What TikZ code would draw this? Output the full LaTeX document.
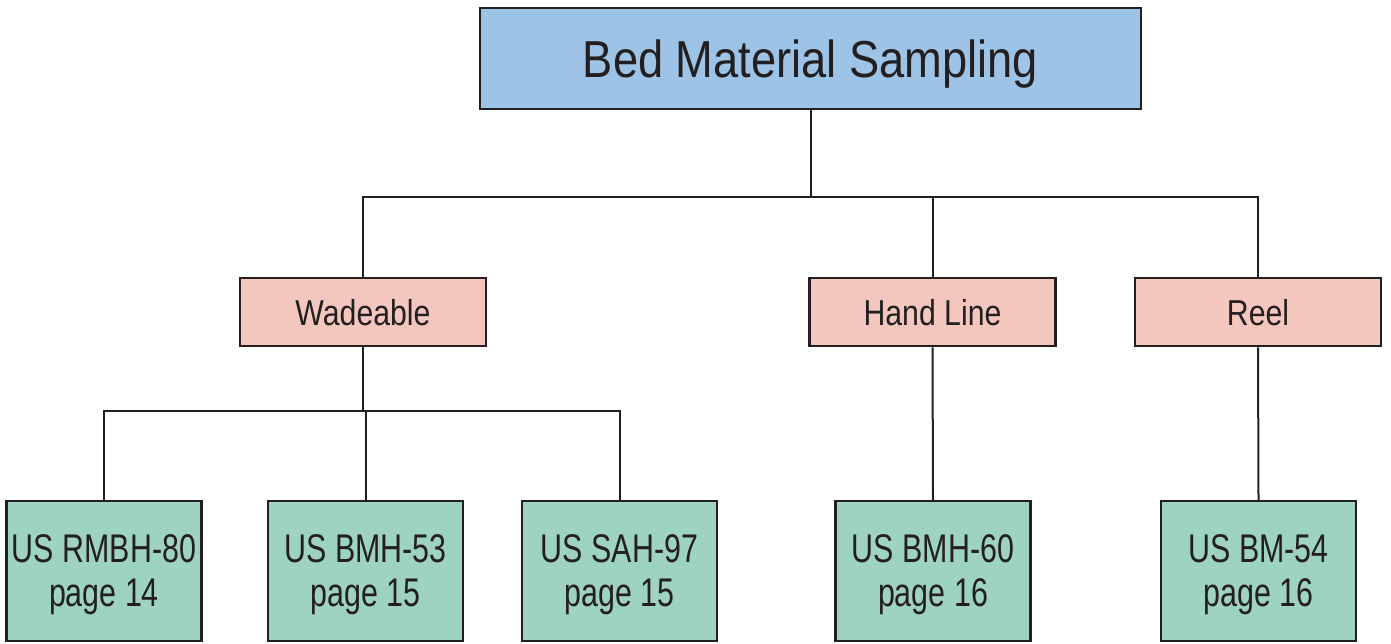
\documentclass[tikz,border=0pt]{standalone}
\usepackage{fontspec}
\setmainfont{Liberation Sans}
\newfontfamily\rootfont[FakeStretch=0.87]{Liberation Sans}
\newfontfamily\kindfont[FakeStretch=0.84]{Liberation Sans}
\newfontfamily\samplerfont[FakeStretch=0.76]{Liberation Sans}
\definecolor{rootblue}{HTML}{9DC3E6}
\definecolor{kindpink}{HTML}{F4C7BE}
\definecolor{samplergreen}{HTML}{9DD3BF}
\definecolor{inkgray}{HTML}{231F20}
\begin{document}
\begin{tikzpicture}[x=0.5pt,y=-0.5pt,
    box/.style={draw=inkgray,line width=1.25pt,inner sep=0pt,align=center,text=inkgray},
    rootbox/.style={box,fill=rootblue,minimum width=330.5pt,minimum height=50.5pt,
      text depth=0pt,font=\rootfont\fontsize{26}{30}\selectfont},
    kindbox/.style={box,fill=kindpink,minimum width=123pt,minimum height=34pt,
      text depth=-2.9pt,font=\kindfont\fontsize{18}{22}\selectfont},
    samplerbox/.style={box,fill=samplergreen,minimum width=97.5pt,minimum height=70pt,
      text depth=-3.7pt,font=\samplerfont\fontsize{20}{22}\selectfont}]
  \useasboundingbox (0,0) rectangle (1391,643);
  \node[rootbox] (bed) at (810.5,58.5) {Bed Material Sampling};
  \node[kindbox] (wade) at (363,312) {Wadeable};
  \node[kindbox] (hand) at (932.5,312) {Hand Line};
  \node[kindbox] (reel) at (1258,312) {Reel};
  \node[samplerbox] (rmbh80) at (104,571) {US RMBH-80\\page 14};
  \node[samplerbox] (bmh53) at (365.5,571) {US BMH-53\\page 15};
  \node[samplerbox] (sah97) at (619.5,571) {US SAH-97\\page 15};
  \node[samplerbox] (bmh60) at (933,571) {US BMH-60\\page 16};
  \node[samplerbox] (bm54) at (1258.5,571) {US BM-54\\page 16};
  \coordinate (rootsplit) at (810.5,197);
  \coordinate (wadesplit) at (363,411);
  \begin{scope}[draw=inkgray,line width=1pt]
    \draw (bed.south) -- (rootsplit);
    \draw (wade.north) |- (rootsplit);
    \draw (reel.north) |- (rootsplit);
    \draw (hand.north) -- (hand.north |- rootsplit);
    \draw (wade.south) -- (wadesplit);
    \draw (rmbh80.north) |- (wadesplit);
    \draw (sah97.north) |- (wadesplit);
    \draw (bmh53.north) -- (bmh53.north |- wadesplit);
    \draw (hand.south) -- (bmh60.north);
    \draw (reel.south) -- (bm54.north);
  \end{scope}
\end{tikzpicture}
\end{document}
